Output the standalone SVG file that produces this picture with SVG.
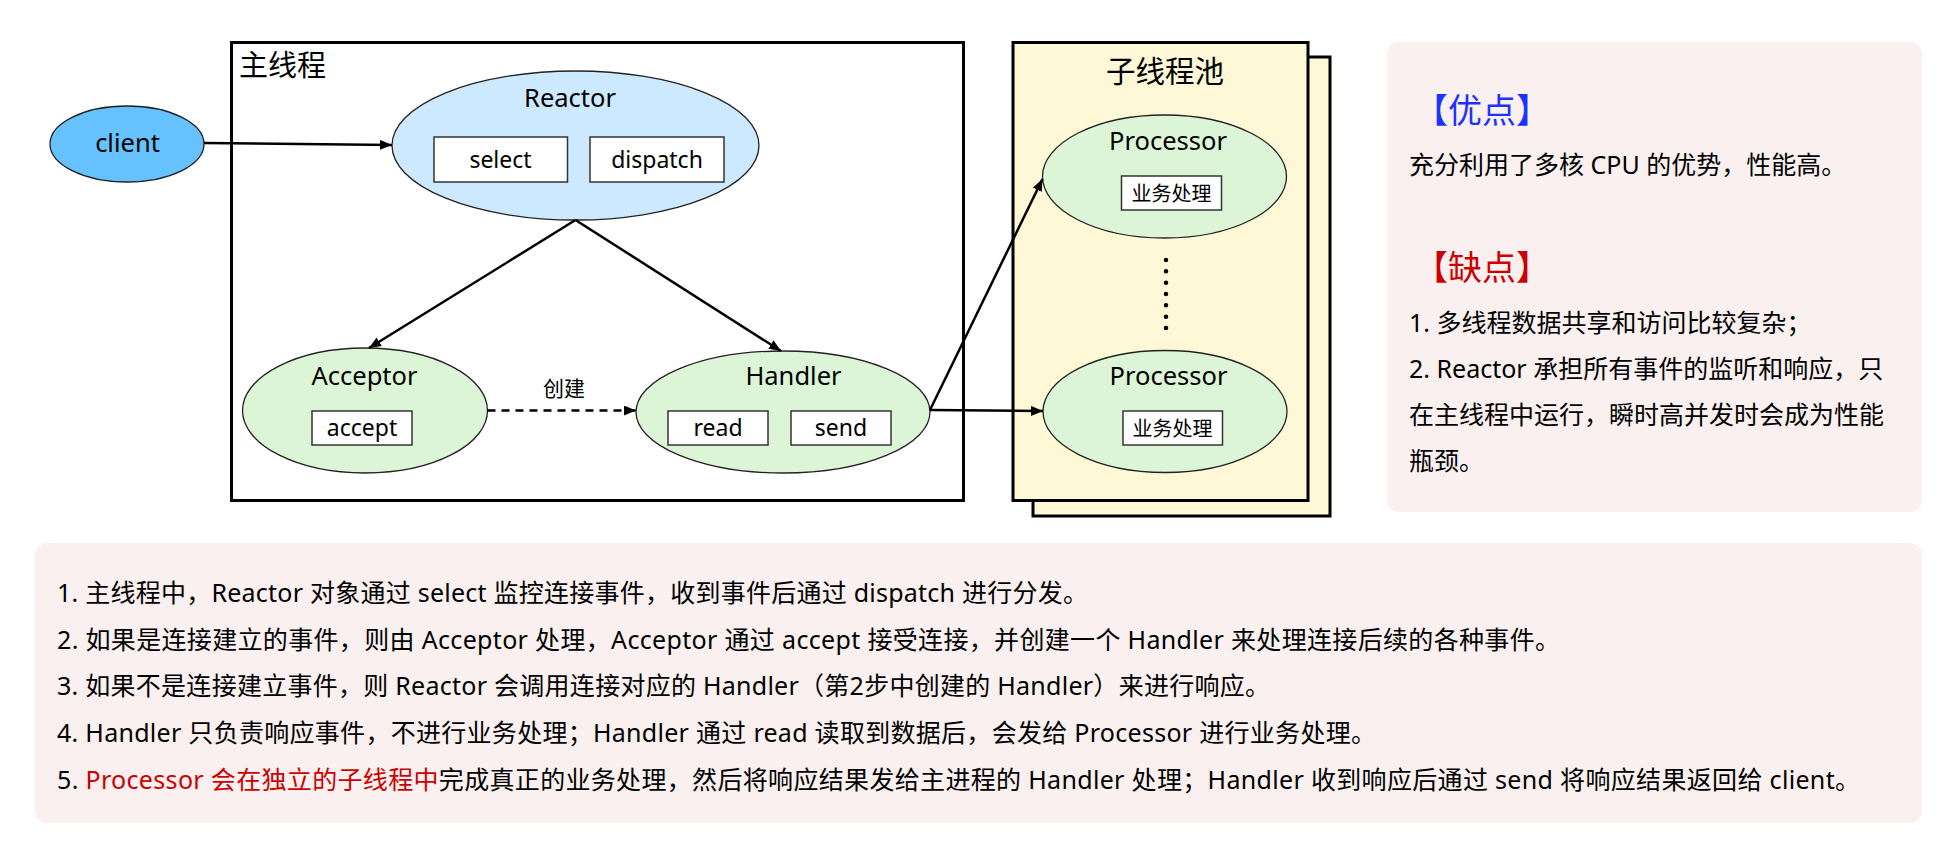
<svg xmlns="http://www.w3.org/2000/svg" width="1945" height="841" viewBox="0 0 1945 841">
<defs>
<marker id="arr" markerUnits="userSpaceOnUse" markerWidth="13" markerHeight="11" refX="12" refY="5" orient="auto">
<path d="M0,0 L12,5 L0,10 z" fill="#000"/>
</marker>
<style>
text{font-family:"Noto Sans","Noto Sans CJK SC",sans-serif;fill:#000}
.ttl{font-size:25.5px;text-anchor:middle}
.lbl{font-size:23px;text-anchor:middle}
.sm{font-size:20px;text-anchor:middle}
.box{fill:#fff;stroke:#333;stroke-width:1.5}
.ell{stroke:#222;stroke-width:1.3}
.green{fill:#DCF5D6}
.frame{fill:none;stroke:#000;stroke-width:3}
.pool{fill:#FFF8D7;stroke:#000;stroke-width:3}
.panel{fill:#FAF0EF}
.body{font-size:25px}
.head{font-size:34px}
.ln{stroke:#000;stroke-width:2.5;fill:none}
.red{fill:#CC0000}
</style>
</defs>
<rect width="1945" height="841" fill="#fff"/>

<!-- main thread frame -->
<g id="main-thread">
<rect class="frame" x="231.5" y="42.5" width="732" height="458"/>
<text x="239" y="76" style="font-size:29px">主线程</text>
</g>

<!-- sub-thread pool -->
<g id="thread-pool">
<rect class="pool" x="1033" y="57" width="297" height="459"/>
<rect class="pool" x="1013" y="42.5" width="295" height="458"/>
<text x="1165" y="82" style="font-size:29.5px;text-anchor:middle">子线程池</text>
<line x1="1166" y1="260" x2="1166" y2="328.5" stroke="#000" stroke-width="4.5" stroke-linecap="round" stroke-dasharray="0 11.33"/>
</g>

<g id="client">
<ellipse cx="127" cy="144" rx="77" ry="38" fill="#66C2FF" class="ell"/>
<text class="ttl" x="127.5" y="152">client</text>
</g>

<g id="reactor">
<ellipse cx="575.5" cy="145.5" rx="183.5" ry="74.5" fill="#CCE9FF" class="ell"/>
<text class="ttl" x="570" y="107">Reactor</text>
<rect class="box" x="434" y="137" width="133.5" height="45"/>
<text class="lbl" x="500.5" y="167.5">select</text>
<rect class="box" x="590" y="137" width="134" height="45"/>
<text class="lbl" x="657" y="167.5">dispatch</text>
</g>

<g id="acceptor">
<ellipse cx="365" cy="410.5" rx="122.5" ry="62.5" class="ell green"/>
<text class="ttl" x="364.5" y="385">Acceptor</text>
<rect class="box" x="312" y="411" width="100" height="34"/>
<text class="lbl" x="362" y="436">accept</text>
</g>

<g id="handler">
<ellipse cx="783" cy="412" rx="147" ry="61" class="ell green"/>
<text class="ttl" x="793.5" y="384.5">Handler</text>
<rect class="box" x="668" y="411" width="100" height="34"/>
<text class="lbl" x="718" y="436">read</text>
<rect class="box" x="791" y="411" width="100" height="34"/>
<text class="lbl" x="841" y="436">send</text>
</g>

<g id="processor-1">
<ellipse cx="1164.5" cy="176.5" rx="122" ry="61.5" class="ell green"/>
<text class="ttl" x="1168" y="150">Processor</text>
<rect class="box" x="1121.5" y="176" width="100" height="34"/>
<text class="sm" x="1171.5" y="200.5">业务处理</text>
</g>

<g id="processor-2">
<ellipse cx="1165" cy="411.5" rx="122" ry="61" class="ell green"/>
<text class="ttl" x="1168.5" y="385">Processor</text>
<rect class="box" x="1123" y="411" width="99.5" height="34"/>
<text class="sm" x="1172.5" y="435.5">业务处理</text>
</g>

<g id="connectors">
<line class="ln" x1="204" y1="143" x2="392" y2="145" marker-end="url(#arr)"/>
<line class="ln" x1="575.5" y1="220" x2="369" y2="348" marker-end="url(#arr)"/>
<line class="ln" x1="575.5" y1="220" x2="781" y2="351" marker-end="url(#arr)"/>
<line class="ln" x1="487.5" y1="410.5" x2="636" y2="410.5" stroke-dasharray="8 6" marker-end="url(#arr)"/>
<text x="564" y="396" style="font-size:21px;text-anchor:middle">创建</text>
<line class="ln" x1="930" y1="410" x2="1042.5" y2="179" marker-end="url(#arr)"/>
<line class="ln" x1="930" y1="410" x2="1043" y2="411" marker-end="url(#arr)"/>
</g>

<!-- pros / cons panel -->
<g id="pros-cons">
<rect class="panel" x="1387" y="42" width="535" height="470" rx="12"/>
<text class="head" x="1414" y="123" style="fill:#1A33FF">【优点】</text>
<text class="body" x="1409" y="173.5">充分利用了多核 CPU 的优势，性能高。</text>
<text class="head" x="1414" y="279.5" style="fill:#CC0000">【缺点】</text>
<text class="body" x="1409" y="332">1. 多线程数据共享和访问比较复杂；</text>
<text class="body" x="1409" y="378">2. Reactor 承担所有事件的监听和响应，只</text>
<text class="body" x="1409" y="424">在主线程中运行，瞬时高并发时会成为性能</text>
<text class="body" x="1409" y="470">瓶颈。</text>
</g>

<!-- description panel -->
<g id="description">
<rect class="panel" x="35" y="543" width="1887" height="280" rx="12"/>
<text class="body" x="57" y="602" textLength="1031" lengthAdjust="spacing">1. 主线程中，Reactor 对象通过 select 监控连接事件，收到事件后通过 dispatch 进行分发。</text>
<text class="body" x="57" y="648.7" textLength="1503" lengthAdjust="spacing">2. 如果是连接建立的事件，则由 Acceptor 处理，Acceptor 通过 accept 接受连接，并创建一个 Handler 来处理连接后续的各种事件。</text>
<text class="body" x="57" y="695.4" textLength="1213" lengthAdjust="spacing">3. 如果不是连接建立事件，则 Reactor 会调用连接对应的 Handler（第2步中创建的 Handler）来进行响应。</text>
<text class="body" x="57" y="742.1" textLength="1319" lengthAdjust="spacing">4. Handler 只负责响应事件，不进行业务处理；Handler 通过 read 读取到数据后，会发给 Processor 进行业务处理。</text>
<text class="body" x="57" y="788.8" textLength="1803" lengthAdjust="spacing">5. <tspan class="red">Processor 会在独立的子线程中</tspan>完成真正的业务处理，然后将响应结果发给主进程的 Handler 处理；Handler 收到响应后通过 send 将响应结果返回给 client。</text>
</g>
</svg>
